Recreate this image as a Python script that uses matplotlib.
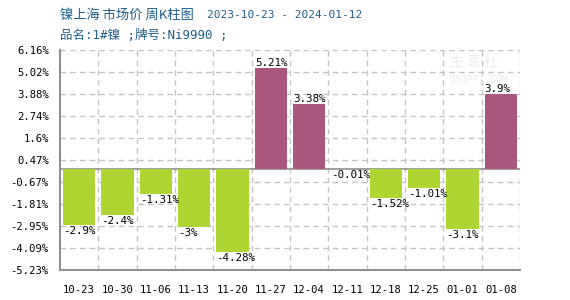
import matplotlib
matplotlib.use("Agg")
import matplotlib.pyplot as plt
import numpy as np

# --------------------------------------------
# Data
# --------------------------------------------
weeks = ["10-23", "10-30", "11-06", "11-13", "11-20", "11-27",
         "12-04", "12-11", "12-18", "12-25", "01-01", "01-08"]
changes = [-2.9, -2.4, -1.31, -3, -4.28, 5.21, 3.38, -0.01, -1.52, -1.01, -3.1, 3.9]
y_ticks = [6.16, 5.02, 3.88, 2.74, 1.6, 0.47, -0.67, -1.81, -2.95, -4.09, -5.23]

GREEN = "#add633"
PURPLE = "#a9577f"
MONO = ["DejaVu Sans Mono", "Noto Sans CJK SC"]

fig = plt.figure(figsize=(5.7, 3.0), dpi=100)
ax = fig.add_axes([60 / 570, 30 / 300, 460 / 570, 220 / 300])

x = np.arange(len(weeks))
colors = [PURPLE if v > 0 else GREEN for v in changes]
bar_w = 0.84
ax.bar(x, changes, width=bar_w, color=colors, zorder=3)

# value labels, left aligned with bar
for xi, v in zip(x, changes):
    label = "%g%%" % v
    if v > 0:
        ax.text(xi - bar_w / 2, v, label, ha="left", va="bottom",
                fontsize=7.8, family=MONO, zorder=4)
    else:
        ax.text(xi - bar_w / 2, v - 0.05, label, ha="left", va="top",
                fontsize=7.8, family=MONO, zorder=4)

ax.set_xlim(-0.5, len(weeks) - 0.5)
ax.set_ylim(min(y_ticks), max(y_ticks))

ax.set_xticks(x)
ax.set_xticklabels(weeks, family=MONO, fontsize=7.6)
ax.set_xticks(np.arange(len(weeks)) + 0.5, minor=True)
ax.set_yticks(y_ticks)
ax.set_yticklabels(["%g%%" % t for t in y_ticks], family=MONO, fontsize=7.6)
ax.tick_params(axis="both", which="both", length=0)
ax.tick_params(axis="x", pad=11)
ax.tick_params(axis="y", pad=8)

ax.grid(axis="y", which="major", color="#c4c4c4", linestyle=(0, (4, 3)), lw=1, zorder=1)
ax.grid(axis="x", which="minor", color="#c4c4c4", linestyle=(0, (4, 3)), lw=1, zorder=1)
ax.grid(axis="x", which="major", visible=False)
ax.axhline(0, color="#909090", lw=1.2, zorder=2)

for s in ["top", "right"]:
    ax.spines[s].set_visible(False)
for s in ["left", "bottom"]:
    ax.spines[s].set_color("#909090")
    ax.spines[s].set_linewidth(1.5)

# watermark
fig.text(450 / 570, 1 - 62 / 300, "生 意 社", fontsize=10, color="#f1eaea",
         family="Noto Sans CJK SC", ha="left", va="center", zorder=0)
fig.text(450 / 570, 1 - 80 / 300, "100PPI.COM", fontsize=7, color="#f1eaea",
         family=MONO, ha="left", va="center", zorder=0)

# titles
fig.text(60 / 570, 1 - 15 / 300, "镍上海 市场价 周K柱图", fontsize=9.5,
         color="#1f5f8b", family=["Noto Sans CJK SC"], ha="left", va="center")
fig.text(207 / 570, 1 - 15 / 300, "2023-10-23 - 2024-01-12", fontsize=8,
         color="#1f5f8b", family=MONO, ha="left", va="center")
fig.text(60 / 570, 1 - 35 / 300, "品名:1#镍 ;牌号:Ni9990 ;", fontsize=9,
         color="#1f5f8b", family=MONO, ha="left", va="center")

fig.savefig("out.png", dpi=100)
